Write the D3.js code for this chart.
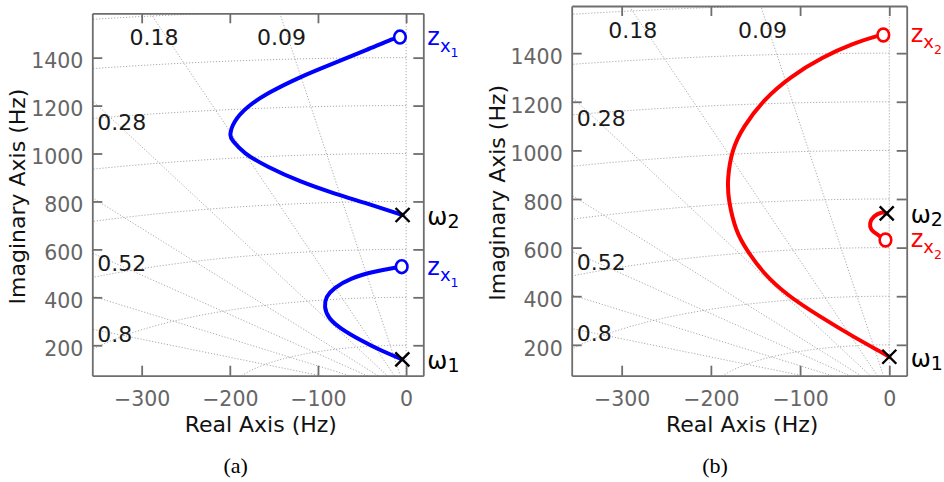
<!DOCTYPE html>
<meta charset="utf-8">
<style>
body { margin: 0; background: #fff; }
svg text { font-family: "DejaVu Sans", sans-serif; }
.axis .domain { stroke: #6e6e6e; stroke-width: 1.8; }
.axis .tick line { stroke: #6e6e6e; stroke-width: 1.8; }
.axis .tick text { fill: #666; font-size: 20.5px; font-family: "DejaVu Sans", sans-serif; }
</style>
<svg width="944" height="482"></svg>
<script src="https://d3js.org/d3.v7.min.js"></script>
<script>
// tick labels
var xTicks = [-300, -200, -100, 0];
var yTicks = [200, 400, 600, 800, 1000, 1200, 1400];

// s-plane grid (damping ratio rays, natural frequency arcs in Hz)
var dampLines = [0, 0.09, 0.18, 0.28, 0.4, 0.52, 0.66, 0.8];
var dampTop = [0.18, 0.09];
var dampLeft = [0.28, 0.52, 0.8];
var wnArcs = [200, 400, 600, 800, 1000, 1200, 1400, 1600];

// (a) loci ending at z_x1, [real, imag] in Hz
var locusA_hi = [[-4, 743.5], [-44.6, 792], [-82.4, 834], [-120.2, 882], [-157.9, 945],
  [-184.5, 1001], [-197.6, 1056], [-200.6, 1074], [-196, 1133], [-180.8, 1195],
  [-157.9, 1251], [-120.2, 1320], [-82.4, 1376], [-44.6, 1432], [-12.5, 1483], [-7, 1486]];
var locusA_lo = [[-4.3, 141.4], [-25.9, 173], [-52.3, 222], [-75, 271], [-88.3, 312.5],
  [-93.1, 361], [-90.9, 402.6], [-82.6, 437.6], [-63.6, 479.4], [-37.2, 507], [-10.7, 525], [-5, 527.8]];
var polesA = [[-4, 743.5], [-4.3, 141.4]];
var zerosA = [[-7, 1486], [-5, 527.8]];

// (b) loci ending at z_x2
var locusB_main = [[0, 151], [-6.7, 165], [-40.4, 233.5], [-77.7, 315.7], [-115, 405],
  [-141.3, 494.3], [-159.9, 590], [-172, 665], [-180.5, 796], [-181.6, 878], [-176.7, 1001.6],
  [-163.7, 1097.4], [-141.3, 1207.3], [-111.3, 1303], [-74, 1385.4], [-40.4, 1440.5],
  [-10.4, 1474.7], [-6.7, 1474.7]];
var locusB_loop = [[-2.9, 741], [-8.5, 747.7], [-17.9, 730], [-22.4, 700], [-20.9, 672.4],
  [-14.1, 656], [-4.3, 631.3]];
var polesB = [[-2.9, 741], [0, 151]];
var zerosB = [[-6.7, 1474.7], [-4.3, 631.3]];

var poleNames = ["2", "1"];

var svg = d3.select("svg");

function panel(cfg) {
  var x = d3.scaleLinear().domain([-356, 19.5]).range([cfg.left, cfg.right]);
  var y = d3.scaleLinear().domain(cfg.yDomain).range([cfg.bottom, cfg.top]);
  var ymax = cfg.yDomain[1];

  svg.append("clipPath").attr("id", "clip" + cfg.id)
    .append("rect")
      .attr("x", cfg.left).attr("y", cfg.top)
      .attr("width", cfg.right - cfg.left).attr("height", cfg.bottom - cfg.top);

  var grid = svg.append("g")
      .attr("clip-path", "url(#clip" + cfg.id + ")")
      .attr("fill", "none")
      .attr("stroke", "#a0a0a0")
      .attr("stroke-width", 0.9)
      .attr("stroke-dasharray", "1.2,1.8");

  grid.selectAll("line")
    .data(dampLines)
    .join("line")
      .attr("x1", x(0)).attr("y1", y(0))
      .attr("x2", function(d) { return x(-d * 4000); })
      .attr("y2", function(d) { return y(Math.sqrt(1 - d * d) * 4000); });

  var arc = d3.line()
      .x(function(d) { return x(d[0]); })
      .y(function(d) { return y(d[1]); });
  grid.selectAll("path")
    .data(wnArcs)
    .join("path")
      .attr("d", function(w) {
        return arc(d3.range(0, 91).map(function(a) {
          var t = a * Math.PI / 180;
          return [-w * Math.sin(t), w * Math.cos(t)];
        }));
      });

  // damping labels
  var lab = svg.append("g").attr("fill", "#1a1a1a").style("font-size", "22px");
  lab.selectAll("text.top")
    .data(dampTop)
    .join("text")
      .attr("class", "top")
      .attr("text-anchor", "middle")
      .attr("x", function(d) { return x(-d / Math.sqrt(1 - d * d) * (ymax - 22)); })
      .attr("y", y(ymax) + 32)
      .text(function(d) { return d; });
  lab.selectAll("text.left")
    .data(dampLeft)
    .join("text")
      .attr("class", "left")
      .attr("x", cfg.left + 5)
      .attr("y", function(d) { return y(330 * Math.sqrt(1 - d * d) / d) + 8; })
      .text(function(d) { return d; });

  // axes
  svg.append("g").attr("class", "axis")
      .attr("transform", "translate(0," + cfg.bottom + ")")
      .call(d3.axisBottom(x).tickValues(xTicks).tickSizeInner(-10).tickSizeOuter(0).tickPadding(16));
  svg.append("g").attr("class", "axis")
      .attr("transform", "translate(0," + cfg.top + ")")
      .call(d3.axisTop(x).tickValues(xTicks).tickSizeInner(-10).tickSizeOuter(0).tickFormat(""));
  svg.append("g").attr("class", "axis")
      .attr("transform", "translate(" + cfg.left + ",0)")
      .call(d3.axisLeft(y).tickValues(yTicks).tickFormat(d3.format("d"))
        .tickSizeInner(-10).tickSizeOuter(0).tickPadding(9))
    .selectAll("text").attr("dy", "0.5em");
  svg.append("g").attr("class", "axis")
      .attr("transform", "translate(" + cfg.right + ",0)")
      .call(d3.axisRight(y).tickValues(yTicks).tickSizeInner(-10).tickSizeOuter(0).tickFormat(""));

  // loci
  var line = d3.line()
      .x(function(d) { return x(d[0]); })
      .y(function(d) { return y(d[1]); })
      .curve(d3.curveBasis);
  svg.append("g")
      .attr("fill", "none")
      .attr("stroke", cfg.color)
      .attr("stroke-width", 4)
      .attr("stroke-linecap", "round")
    .selectAll("path")
    .data(cfg.loci)
    .join("path")
      .attr("d", line);

  // zeros
  svg.append("g")
    .selectAll("ellipse")
    .data(cfg.zeros)
    .join("ellipse")
      .attr("cx", function(d) { return x(d[0]); })
      .attr("cy", function(d) { return y(d[1]); })
      .attr("rx", 5.8).attr("ry", 6.4)
      .attr("fill", "#fff")
      .attr("stroke", cfg.color)
      .attr("stroke-width", 2.6);

  // poles
  svg.append("g")
      .attr("stroke", "#000")
      .attr("stroke-width", 2.4)
    .selectAll("path")
    .data(cfg.poles)
    .join("path")
      .attr("d", function(d) {
        var cx = x(d[0]), cy = y(d[1]), s = 7;
        return "M" + (cx - s) + "," + (cy - s) + "L" + (cx + s) + "," + (cy + s) +
               "M" + (cx - s) + "," + (cy + s) + "L" + (cx + s) + "," + (cy - s);
      });

  // marker names
  var names = svg.append("g").style("font-size", "24px");
  cfg.poles.forEach(function(p, i) {
    var t = names.append("text")
        .attr("x", cfg.right + 4)
        .attr("y", y(p[1]) + 10)
        .attr("fill", "#000");
    t.append("tspan").text("ω");
    t.append("tspan").attr("dy", 3).style("font-size", "19px").text(poleNames[i]);
  });
  cfg.zeros.forEach(function(p) {
    var t = names.append("text")
        .attr("x", cfg.right + 4)
        .attr("y", y(p[1]) + cfg.zOff)
        .attr("fill", cfg.color);
    t.append("tspan").text("z");
    t.append("tspan").attr("dy", 6.5).style("font-size", "18px").text("x");
    t.append("tspan").attr("dy", 5.5).style("font-size", "12.5px").text(cfg.sub);
  });

  // axis titles
  svg.append("text")
      .attr("x", (cfg.left + cfg.right) / 2 + 3)
      .attr("y", cfg.bottom + 56)
      .attr("text-anchor", "middle")
      .attr("fill", "#111")
      .style("font-size", "22px")
      .text("Real Axis (Hz)");
  svg.append("text")
      .attr("transform", "translate(" + (cfg.left - 67) + "," + ((cfg.top + cfg.bottom) / 2 + 2) + ") rotate(-90)")
      .attr("text-anchor", "middle")
      .attr("fill", "#111")
      .style("font-size", "22px")
      .text("Imaginary Axis (Hz)");

  // sub-caption
  svg.append("text")
      .attr("x", cfg.left + 143.3)
      .attr("y", 473)
      .attr("text-anchor", "middle")
      .attr("fill", "#000")
      .style("font-family", "'Liberation Serif', serif")
      .style("font-size", "22px")
      .text(cfg.caption);
}

panel({id: "a", left: 92.3, right: 423.3, top: 13.3, bottom: 375.7, yDomain: [73, 1585],
  color: "#0000ff", loci: [locusA_hi, locusA_lo], poles: polesA, zeros: zerosA,
  sub: "1", zOff: 8, caption: "(a)"});

panel({id: "b", left: 571.7, right: 906.7, top: 6, bottom: 375.7, yDomain: [73, 1594],
  color: "#ff0000", loci: [locusB_main, locusB_loop], poles: polesB, zeros: zerosB,
  sub: "2", zOff: 7, caption: "(b)"});
</script>
